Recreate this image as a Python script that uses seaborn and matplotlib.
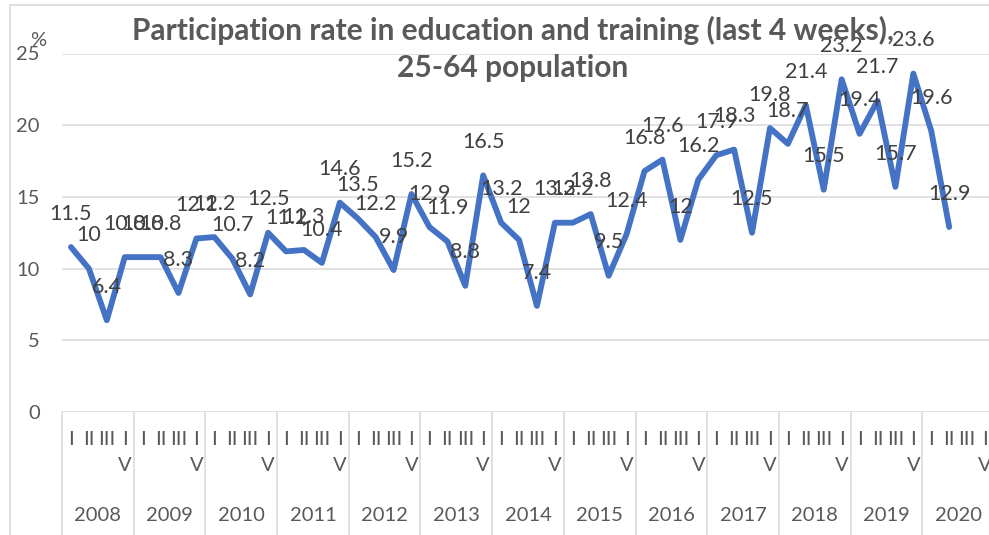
import matplotlib
matplotlib.use("Agg")
import matplotlib.pyplot as plt
import matplotlib.patches as patches
import seaborn as sns
import pandas as pd

# quarterly participation rate, 25-64 population (%)
years = [str(y) for y in range(2008, 2021)]
quarter_labels = ["I", "II", "III", "I\nV"]  # "IV" wraps in the original
rate = [11.5, 10, 6.4, 10.8,
        10.8, 10.8, 8.3, 12.1,
        12.2, 10.7, 8.2, 12.5,
        11.2, 11.3, 10.4, 14.6,
        13.5, 12.2, 9.9, 15.2,
        12.9, 11.9, 8.8, 16.5,
        13.2, 12, 7.4, 13.2,
        13.2, 13.8, 9.5, 12.4,
        16.8, 17.6, 12, 16.2,
        17.9, 18.3, 12.5, 19.8,
        18.7, 21.4, 15.5, 23.2,
        19.4, 21.7, 15.7, 23.6,
        19.6, 12.9]

df = pd.DataFrame({"idx": range(len(rate)), "rate": rate})

sns.set_style("white")
plt.rcParams["font.family"] = ["Lato", "DejaVu Sans"]

grid_c = "#D9D9D9"
text_c = "#595959"

fig = plt.figure(figsize=(9.89, 5.35), dpi=100)
W, H = 989, 535
ax = fig.add_axes([62 / W, (H - 412) / H, (994 - 62) / W, (412 - 53.5) / H])

# chart border
fig.patches.append(patches.Rectangle((10 / W, -0.1), 1.2, (H - 5) / H + 0.1,
                                     transform=fig.transFigure, fill=False,
                                     edgecolor=grid_c, linewidth=1.2))

sns.lineplot(data=df, x="idx", y="rate", ax=ax, color="#4472C4", linewidth=4.2,
             zorder=3)

for i, v in enumerate(rate):
    ax.annotate(f"{v:g}", (i, v), xytext=(0, 24), textcoords="offset points",
                ha="center", va="center", fontsize=15.5, color="#404040", zorder=4)

n_cat = len(years) * 4
ax.set_xlim(-0.5, n_cat - 0.5)
ax.set_ylim(0, 25)
ax.set_yticks(range(0, 26, 5))
ax.set_xticks(range(n_cat))
ax.set_xticklabels(quarter_labels * len(years))
for lab in ax.get_xticklabels():
    lab.set_linespacing(1.6)
ax.tick_params(axis="x", length=0, pad=14, labelsize=14.5, labelcolor=text_c)
ax.tick_params(axis="y", length=0, pad=16, labelsize=14.5, labelcolor=text_c)
ax.set_xlabel("")
ax.set_ylabel("")
ax.grid(axis="y", color=grid_c, linewidth=1.1)
ax.grid(axis="x", visible=False)
for s in ax.spines.values():
    s.set_visible(False)

# year group labels and separators
tr = ax.get_xaxis_transform()
for k, yr in enumerate(years):
    ax.text(4 * k + 1.5, -0.29, yr, transform=tr, ha="center", va="center",
            fontsize=14.5, color=text_c)
for k in range(len(years) + 1):
    ax.plot([4 * k - 0.5, 4 * k - 0.5], [0, -0.4], transform=tr, color=grid_c,
            linewidth=1.1, clip_on=False)

fig.text(38 / W, (H - 41) / H, "%", ha="center", va="center", fontsize=14.5,
         color=text_c)
fig.text(513 / W, (H - 30) / H, "Participation rate in education and training (last 4 weeks),",
         ha="center", va="center", fontsize=21.5, fontweight="bold", color=text_c)
fig.text(513 / W, (H - 68) / H, "25-64 population",
         ha="center", va="center", fontsize=21.5, fontweight="bold", color=text_c)

fig.savefig("out.png", dpi=100)
